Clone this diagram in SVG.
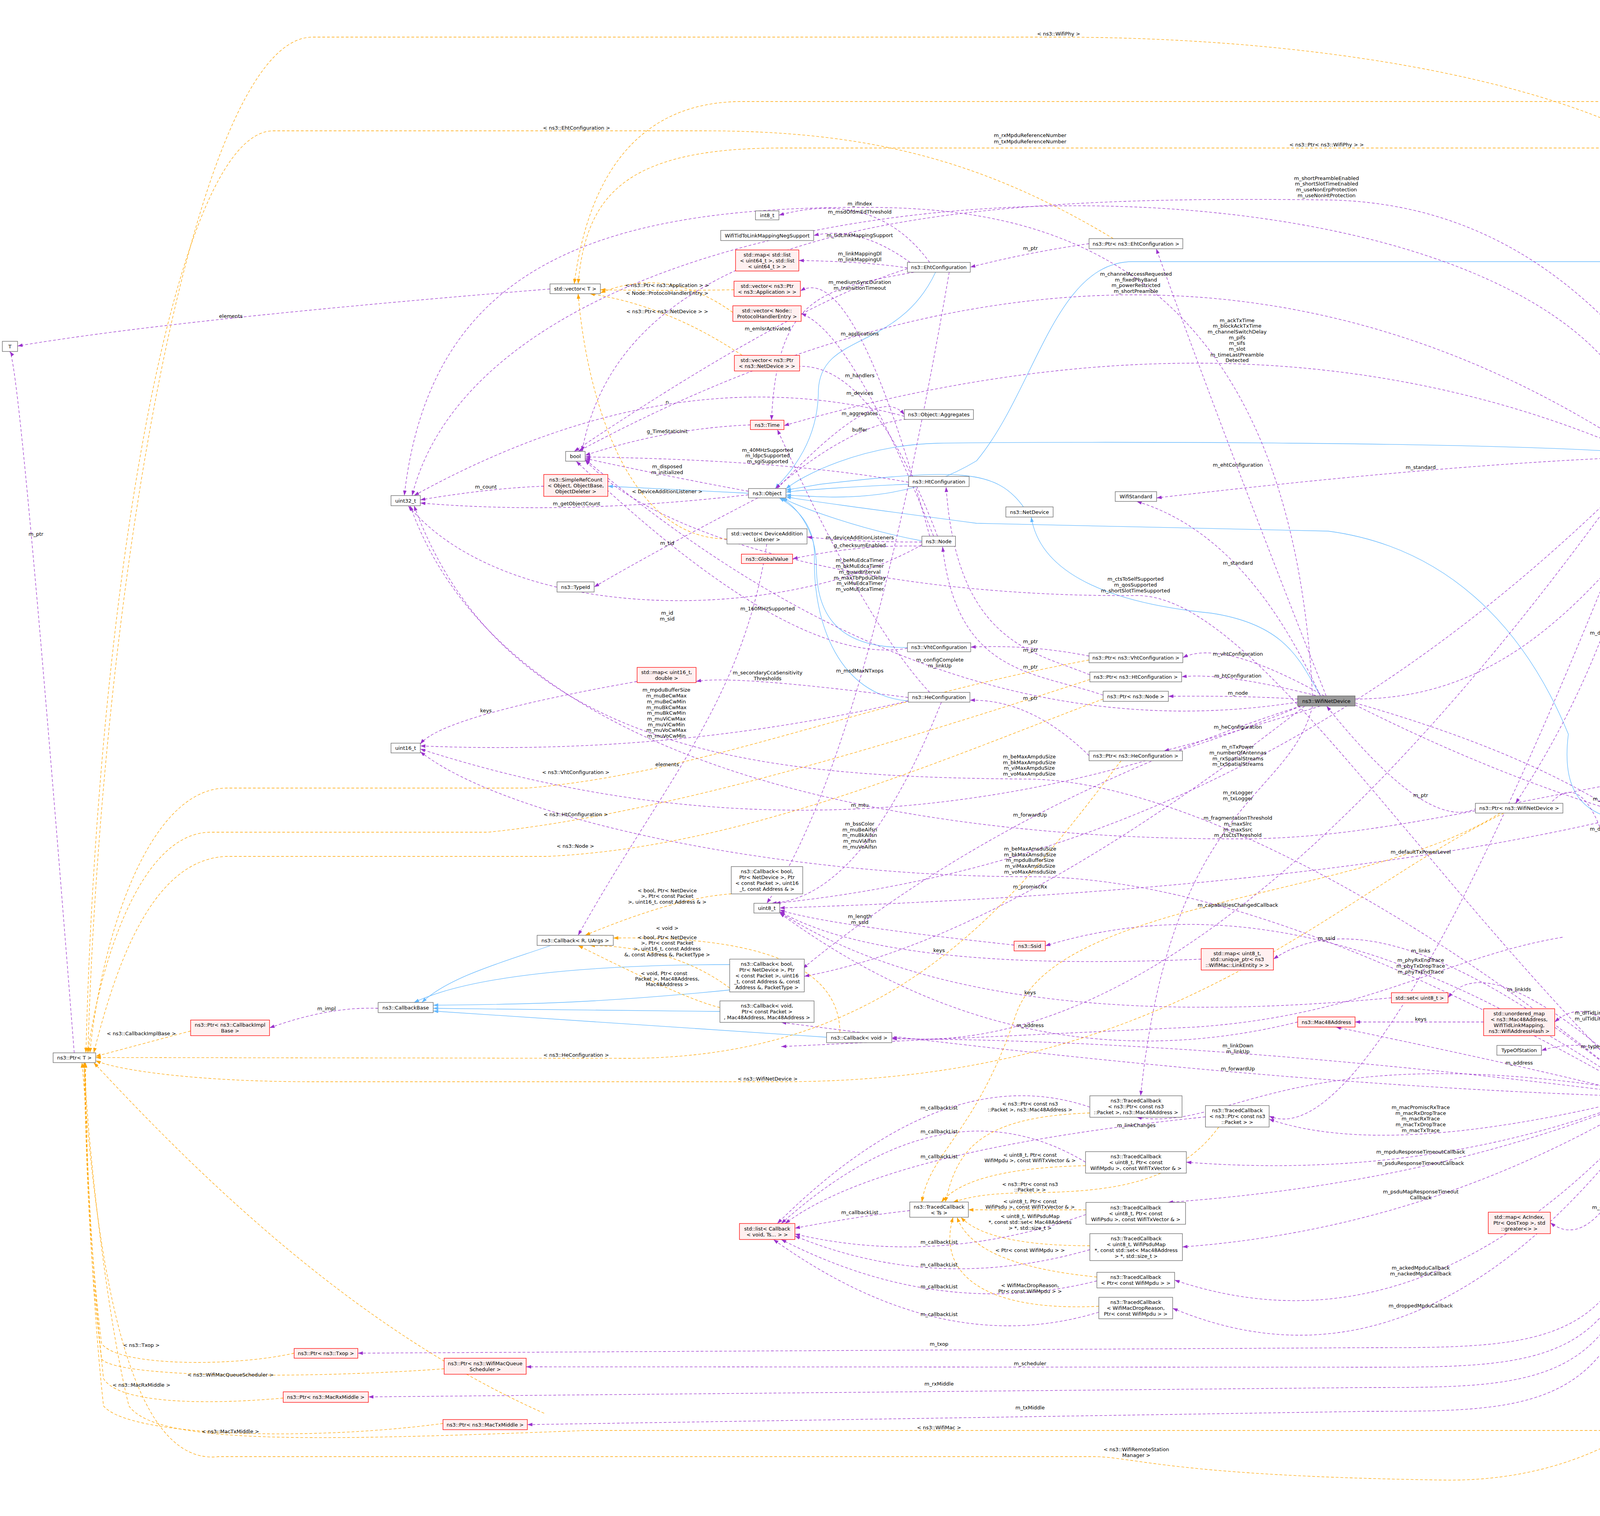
<svg xmlns="http://www.w3.org/2000/svg" width="5608" height="3882" viewBox="0 0 5608 3882">
<style>
text{font-family:"DejaVu Sans","Liberation Sans",sans-serif;font-size:13px;fill:#000;dominant-baseline:central}
.n rect{fill:#fff;stroke:#666;stroke-width:1.3}
.r rect{fill:#fff0f0;stroke:#f00;stroke-width:1.3}
.g rect{fill:#999;stroke:#666;stroke-width:1.3}
.n text,.r text,.g text{text-anchor:middle}
.l{text-anchor:middle}
.p{fill:none;stroke:#9a32cd;stroke-width:1.3;stroke-dasharray:7,5;marker-end:url(#ap)}
.o{fill:none;stroke:#ffa500;stroke-width:1.3;stroke-dasharray:7,5;marker-end:url(#ao)}
.b{fill:none;stroke:#63b8ff;stroke-width:1.3;marker-end:url(#ab)}
</style>
<defs>
<marker id="ap" viewBox="0 0 10 7" refX="10" refY="3.5" markerWidth="13" markerHeight="9" markerUnits="userSpaceOnUse" orient="auto"><path d="M0,0L10,3.5L0,7z" fill="#9a32cd"/></marker>
<marker id="ao" viewBox="0 0 10 7" refX="10" refY="3.5" markerWidth="13" markerHeight="9" markerUnits="userSpaceOnUse" orient="auto"><path d="M0,0L10,3.5L0,7z" fill="#ffa500"/></marker>
<marker id="ab" viewBox="0 0 10 7" refX="10" refY="3.5" markerWidth="13" markerHeight="9" markerUnits="userSpaceOnUse" orient="auto"><path d="M0,0L10,3.5L0,7z" fill="#63b8ff"/></marker>
</defs>
<rect width="5608" height="3882" fill="#fff"/>
<g id="connectors">
<path class="b" d="M1916,1263L1556,1245"/>
<path class="b" d="M2395,697C2300,900 2100,850 2095,1000C2095,1150 2000,1230 1985,1251"/>
<path class="b" d="M2326,1240C2200,1245 2050,1255 2012,1260"/>
<path class="b" d="M2323,1658C2150,1660 2090,1580 2090,1450C2090,1350 2030,1290 2000,1275"/>
<path class="b" d="M2325,1795C2150,1780 2080,1600 2085,1420C2085,1330 2020,1290 1995,1275"/>
<path class="b" d="M2360,1385C2200,1355 2050,1300 2003,1275"/>
<path class="b" d="M2620,1298C2550,1200 2450,1200 2100,1240L2012,1255"/>
<path class="b" d="M4197,1160C3800,1130 2700,1130 2400,1135C2200,1140 2050,1220 2012,1252"/>
<path class="b" d="M4810,1897C4770,1300 4700,670 4500,670L2900,670C2700,670 2650,1000 2500,1180C2300,1300 2100,1270 2012,1268"/>
<path class="b" d="M4240,2790C4230,2300 4220,2100 4150,2100C4030,2080 4000,2000 4015,1880C3900,1600 3700,1400 3400,1360L2500,1340C2200,1300 2050,1280 2012,1272"/>
<path class="b" d="M3381,1782C3330,1700 3300,1600 3100,1570C2800,1540 2660,1450 2640,1324"/>
<path class="b" d="M1872,2470C1500,2470 1200,2500 1060,2567"/>
<path class="b" d="M1410,2421C1300,2460 1150,2500 1080,2567"/>
<path class="b" d="M1868,2535C1500,2572 1300,2572 1109,2574"/>
<path class="b" d="M1843,2590C1500,2585 1300,2583 1109,2582"/>
<path class="b" d="M2116,2656L1109,2589"/>
<path class="p" d="M1408,740Q455,817 45,886"/>
<path class="p" d="M190,2696Q52,936 25,900"/>
<path class="p" d="M1392,1245Q1255,1250 1076,1280"/>
<path class="p" d="M1916,1267Q1456,1320 1076,1288"/>
<path class="p" d="M1916,1258Q1709,1220 1498,1174"/>
<path class="p" d="M1921,1088Q1706,1097 1498,1166"/>
<path class="p" d="M2326,1235Q2018,1178 1498,1170"/>
<path class="p" d="M2323,688Q2033,778 1470,1156"/>
<path class="p" d="M2380,672Q2243,484 1994,551"/>
<path class="p" d="M2330,672Q2199,577 2083,603"/>
<path class="p" d="M2323,686Q2218,670 2045,667"/>
<path class="p" d="M2340,697C2100,740 1990,760 1975,1076"/>
<path class="p" d="M2380,1373Q2187,665 2049,745"/>
<path class="p" d="M2390,1373Q2181,850 2051,803"/>
<path class="p" d="M2400,1373Q2207,866 1990,950"/>
<path class="p" d="M1990,1251Q2249,975 2315,1062"/>
<path class="p" d="M2380,1074Q2219,1053 1985,1251"/>
<path class="p" d="M2360,1388Q2189,1388 2066,1375"/>
<path class="p" d="M2370,1399Q2202,1393 2029,1431"/>
<path class="p" d="M2360,1395C2000,1600 1300,1600 1045,1295"/>
<path class="p" d="M1940,1275Q1685,1407 1521,1503"/>
<path class="p" d="M2315,1066Q1720,905 1060,1269"/>
<path class="p" d="M2323,1660Q2031,1711 1475,1181"/>
<path class="p" d="M2430,697Q2215,1945 1963,2313"/>
<path class="p" d="M2325,1786Q1876,1728 1782,1745"/>
<path class="p" d="M2325,1795Q1711,1937 1076,1910"/>
<path class="p" d="M2410,1798Q2209,2300 1975,2313"/>
<path class="p" d="M2380,1773Q2217,1599 1990,1100"/>
<path class="p" d="M1631,1745Q1134,1833 1076,1905"/>
<path class="p" d="M2788,624Q2638,645 2484,684"/>
<path class="p" d="M2788,1680Q2638,1650 2485,1657"/>
<path class="p" d="M2790,1728C2650,1670 2450,1650 2422,1247"/>
<path class="p" d="M2824,1780C2650,1720 2450,1730 2413,1400"/>
<path class="p" d="M2788,1935Q2640,1790 2483,1793"/>
<path class="p" d="M3390,1782Q3129,1635 3028,1684"/>
<path class="p" d="M3380,1784Q3135,1721 3025,1733"/>
<path class="p" d="M3322,1790Q3181,1781 2991,1783"/>
<path class="p" d="M3380,1808Q3158,1876 2980,1923"/>
<path class="p" d="M3395,1782Q3160,1190 2960,637"/>
<path class="p" d="M3360,1782C3300,600 2600,530 2201,531C1500,531 1100,700 1035,1269"/>
<path class="p" d="M3330,1808Q2199,2279 1076,1918"/>
<path class="p" d="M3322,1798Q2402,1942 1498,1176"/>
<path class="p" d="M3380,1782Q3193,1369 2910,1284"/>
<path class="p" d="M3469,1790C4000,1790 4250,1300 4780,535"/>
<path class="p" d="M3469,1800Q4257,2025 4420,2370"/>
<path class="p" d="M3469,1805Q4531,2339 5400,2172"/>
<path class="p" d="M3330,1808Q2581,2048 2055,2480"/>
<path class="p" d="M3340,1808Q2574,2406 2059,2500"/>
<path class="p" d="M3360,1808C3300,2050 3000,2046 2920,2806"/>
<path class="p" d="M3800,2057Q3676,2159 3396,1808"/>
<path class="p" d="M4220,1178Q4152,1642 3880,2057"/>
<path class="p" d="M4210,2790Q4122,1828 3950,2082"/>
<path class="p" d="M4197,1170Q3695,1189 2961,1275"/>
<path class="p" d="M4696,1905C4400,1000 4000,520 3396,512C2500,500 1600,550 1490,1156"/>
<path class="p" d="M4197,1160Q2977,352 1480,1156"/>
<path class="p" d="M4200,1165Q3230,736 2007,1090"/>
<path class="p" d="M4220,1178Q3235,2186 1985,2313"/>
<path class="p" d="M4700,1923C4000,2000 3600,2150 3169,2148C2400,2150 1300,2000 1050,1295"/>
<path class="p" d="M4696,1915Q3928,2262 1996,2325"/>
<path class="p" d="M4750,1897C4750,900 4650,560 4572,529"/>
<path class="p" d="M4720,1923Q4679,2305 4470,2370"/>
<path class="p" d="M4470,529C4330,600 4260,900 4250,1152"/>
<path class="p" d="M4734,516L4572,516"/>
<path class="p" d="M5090,2132L4830,1923"/>
<path class="p" d="M5321,2152L5207,2152"/>
<path class="p" d="M4220,1152C4100,300 1300,300 1055,1269"/>
<path class="p" d="M4200,1178Q3096,2736 2283,2657"/>
<path class="p" d="M4230,1178Q3534,2978 3249,2858"/>
<path class="p" d="M4197,2800Q3355,2213 2676,2422"/>
<path class="p" d="M2596,2420Q2106,2367 1996,2330"/>
<path class="p" d="M4197,2795Q3545,2262 3260,2456"/>
<path class="p" d="M3075,2456Q2272,2491 1996,2334"/>
<path class="p" d="M4220,2790Q3814,2413 3707,2555"/>
<path class="p" d="M3562,2555Q2495,2656 1996,2336"/>
<path class="p" d="M4197,2805Q3969,2744 3420,2630"/>
<path class="p" d="M3798,2617L3469,2617"/>
<path class="p" d="M4230,2790Q4097,2516 3980,2617"/>
<path class="p" d="M4230,2790Q4114,2638 3946,2690"/>
<path class="p" d="M4197,2802Q3098,2663 2283,2660"/>
<path class="p" d="M4197,2808Q3239,2779 2000,2618"/>
<path class="p" d="M3322,2617Q2615,2792 1996,2338"/>
<path class="p" d="M4197,2810Q3551,2970 3249,2866"/>
<path class="p" d="M4197,2795C3300,2650 3150,2900 2910,2861"/>
<path class="p" d="M4197,2812Q3657,3024 3037,2976"/>
<path class="p" d="M4197,2814Q3680,3029 2990,3079"/>
<path class="p" d="M4210,2816Q3655,3147 3027,3193"/>
<path class="p" d="M4240,2816Q4097,3228 3969,3131"/>
<path class="p" d="M4240,2816Q3650,3495 3007,3278"/>
<path class="p" d="M4240,2816Q3653,3623 3002,3350"/>
<path class="p" d="M4230,2816C4220,3451 4000,3451 3500,3451L916,3465"/>
<path class="p" d="M4232,2816C4222,3501 4000,3501 3500,3501L1347,3500"/>
<path class="p" d="M4234,2816C4224,3553 4000,3553 3500,3553L943,3577"/>
<path class="p" d="M4236,2816C4226,3614 4000,3614 3500,3614L1350,3648"/>
<path class="p" d="M4450,2395L4262,2790"/>
<path class="p" d="M4000,2400C3700,2450 3500,2600 3060,2630L2000,2680"/>
<path class="p" d="M2329,3100Q2201,3114 2035,3145"/>
<path class="p" d="M2790,2835Q2418,2708 1990,3133"/>
<path class="p" d="M2779,2976Q2418,2759 2000,3133"/>
<path class="p" d="M3086,2860Q2260,2945 2010,3133"/>
<path class="p" d="M2780,3110Q2400,3245 2035,3160"/>
<path class="p" d="M2790,3200Q2395,3313 2035,3165"/>
<path class="p" d="M2808,3280Q2404,3381 2000,3174"/>
<path class="p" d="M2813,3360Q2411,3483 1980,3174"/>
<path class="p" d="M968,2582Q843,2577 690,2632"/>
<path class="p" d="M4197,2795C3600,2300 3000,2000 2635,1995C2000,1990 1300,1950 1060,1295"/>
<path class="p" d="M4197,2800C3500,2400 3000,2245 2637,2245C2000,2245 1300,2100 1076,1925"/>
<path class="p" d="M4197,2790C3600,2200 3200,1520 2907,1525C2300,1530 1700,1400 1498,1178"/>
<path class="p" d="M1963,1393C1900,1800 1700,2000 1480,2395"/>
<path class="o" d="M1879,742Q1708,745 1537,742"/>
<path class="o" d="M1876,800Q1709,680 1537,750"/>
<path class="o" d="M1900,910Q1711,783 1510,752"/>
<path class="o" d="M1861,1380C1600,1380 1500,1000 1480,752"/>
<path class="o" d="M2850,611C2500,400 2200,335 1800,335L700,335C450,335 250,1500 220,2696"/>
<path class="o" d="M4420,504C4200,250 3500,95 2700,95L800,95C500,95 260,1500 225,2696"/>
<path class="o" d="M4780,495C4600,379 4400,379 4200,379L2000,379C1600,379 1500,500 1480,727"/>
<path class="o" d="M5460,2132C5350,800 5100,260 4600,260L1900,260C1600,260 1500,500 1470,727"/>
<path class="o" d="M5070,2172C4800,2700 4600,3800 3700,3790C3000,3780 2900,3730 2800,3730L560,3730C300,3760 240,3100 210,2721"/>
<path class="o" d="M2788,1690C2200,1800 1800,1980 1350,2018L580,2018C380,2018 260,2400 230,2696"/>
<path class="o" d="M2790,1740C2300,1900 1700,2085 1250,2131L540,2131C350,2131 250,2500 225,2696"/>
<path class="o" d="M2824,1790C2400,1950 1900,2170 1400,2193L580,2193C380,2200 290,2500 240,2696"/>
<path class="o" d="M2870,1948C2600,2300 2300,2712 1600,2710L245,2708"/>
<path class="o" d="M3850,2082C3400,2300 3000,2770 2000,2770L800,2770C500,2770 300,2740 245,2716"/>
<path class="o" d="M4470,2395C4420,2800 4330,3300 4253,3663L1500,3663C800,3690 400,3700 330,3600C280,3400 230,3000 215,2721"/>
<path class="o" d="M1393,3619C900,3400 500,3000 240,2721"/>
<path class="o" d="M488,2640L245,2705"/>
<path class="o" d="M753,3465C600,3500 300,3500 260,3440C230,3200 218,2900 215,2721"/>
<path class="o" d="M1137,3505C800,3530 300,3530 260,3480C225,3200 218,2900 217,2721"/>
<path class="o" d="M725,3580C500,3600 300,3590 265,3530C230,3200 219,2900 218,2721"/>
<path class="o" d="M1134,3645C800,3690 330,3680 265,3600C232,3300 220,2900 219,2721"/>
<path class="o" d="M1872,2289Q1731,2298 1498,2395"/>
<path class="o" d="M2150,2644C2150,2500 2000,2395 1570,2402"/>
<path class="o" d="M1868,2530Q1727,2424 1510,2421"/>
<path class="o" d="M1843,2580Q1754,2559 1480,2421"/>
<path class="o" d="M3840,2082C3500,2300 2700,2300 2600,2600C2500,2900 2380,2950 2360,3078"/>
<path class="o" d="M2790,2850C2500,2860 2450,2950 2420,3078"/>
<path class="o" d="M2779,2985C2550,2990 2450,3030 2410,3078"/>
<path class="o" d="M3120,2886C3000,3050 2800,3052 2600,3055C2500,3058 2470,3070 2440,3078"/>
<path class="o" d="M2780,3098L2479,3098"/>
<path class="o" d="M2790,3190C2600,3190 2500,3160 2460,3117"/>
<path class="o" d="M2808,3270C2600,3250 2480,3200 2450,3117"/>
<path class="o" d="M2813,3345C2500,3360 2400,3250 2440,3117"/>
</g>
<g id="labels">
<text class="l" x="591" y="809">elements</text>
<text class="l" x="92" y="1367">m_ptr</text>
<text class="l" x="1244" y="1246">m_count</text>
<text class="l" x="1476" y="327">&lt; ns3::EhtConfiguration &gt;</text>
<text class="l" x="2637" y="346">m_rxMpduReferenceNumber</text>
<text class="l" x="2637" y="362">m_txMpduReferenceNumber</text>
<text class="l" x="2201" y="521">m_ifIndex</text>
<text class="l" x="2201" y="542">m_msdOfdmEdThreshold</text>
<text class="l" x="2201" y="602">m_tidLinkMappingSupport</text>
<text class="l" x="2201" y="649">m_linkMappingDl</text>
<text class="l" x="2201" y="664">m_linkMappingUl</text>
<text class="l" x="2638" y="635">m_ptr</text>
<text class="l" x="1708" y="730">&lt; ns3::Ptr&lt; ns3::Application &gt; &gt;</text>
<text class="l" x="1708" y="750">&lt; Node::ProtocolHandlerEntry &gt;</text>
<text class="l" x="1708" y="797">&lt; ns3::Ptr&lt; ns3::NetDevice &gt; &gt;</text>
<text class="l" x="2201" y="722">m_mediumSyncDuration</text>
<text class="l" x="2201" y="737">m_transitionTimeout</text>
<text class="l" x="1965" y="841">m_emlsrActivated</text>
<text class="l" x="2201" y="854">m_applications</text>
<text class="l" x="2201" y="961">m_handlers</text>
<text class="l" x="2201" y="1006">m_devices</text>
<text class="l" x="1708" y="1029">n</text>
<text class="l" x="2201" y="1058">m_aggregates</text>
<text class="l" x="1708" y="1104">g_TimeStaticInit</text>
<text class="l" x="2201" y="1100">buffer</text>
<text class="l" x="1965" y="1152">m_40MHzSupported</text>
<text class="l" x="1965" y="1166">m_ldpcSupported</text>
<text class="l" x="1965" y="1181">m_sgiSupported</text>
<text class="l" x="1708" y="1194">m_disposed</text>
<text class="l" x="1708" y="1209">m_initialized</text>
<text class="l" x="1708" y="1258">&lt; DeviceAdditionListener &gt;</text>
<text class="l" x="1476" y="1289">m_getObjectCount</text>
<text class="l" x="2201" y="1376">m_deviceAdditionListeners</text>
<text class="l" x="2201" y="1396">g_checksumEnabled</text>
<text class="l" x="1708" y="1390">m_tid</text>
<text class="l" x="2710" y="86">&lt; ns3::WifiPhy &gt;</text>
<text class="l" x="4654" y="236">&lt; ns3::Ptr&lt; ns3::WifiRemote</text>
<text class="l" x="4654" y="251">StationManager &gt; &gt;</text>
<text class="l" x="3396" y="370">&lt; ns3::Ptr&lt; ns3::WifiPhy &gt; &gt;</text>
<text class="l" x="3396" y="456">m_shortPreambleEnabled</text>
<text class="l" x="3396" y="470">m_shortSlotTimeEnabled</text>
<text class="l" x="3396" y="485">m_useNonErpProtection</text>
<text class="l" x="3396" y="500">m_useNonHtProtection</text>
<text class="l" x="2908" y="701">m_channelAccessRequested</text>
<text class="l" x="2908" y="716">m_fixedPhyBand</text>
<text class="l" x="2908" y="730">m_powerRestricted</text>
<text class="l" x="2908" y="745">m_shortPreamble</text>
<text class="l" x="3167" y="820">m_ackTxTime</text>
<text class="l" x="3167" y="834">m_blockAckTxTime</text>
<text class="l" x="3167" y="849">m_channelSwitchDelay</text>
<text class="l" x="3167" y="864">m_pifs</text>
<text class="l" x="3167" y="878">m_sifs</text>
<text class="l" x="3167" y="893">m_slot</text>
<text class="l" x="3167" y="908">m_timeLastPreamble</text>
<text class="l" x="3167" y="922">Detected</text>
<text class="l" x="3169" y="1190">m_ehtConfiguration</text>
<text class="l" x="3637" y="1196">m_standard</text>
<text class="l" x="4637" y="506">elements</text>
<text class="l" x="4347" y="565">m_ptr</text>
<text class="l" x="4636" y="548">m_wifiPhy</text>
<text class="l" x="2201" y="1434">m_beMuEdcaTimer</text>
<text class="l" x="2201" y="1449">m_bkMuEdcaTimer</text>
<text class="l" x="2201" y="1464">m_guardInterval</text>
<text class="l" x="2201" y="1479">m_maxTbPpduDelay</text>
<text class="l" x="2201" y="1493">m_viMuEdcaTimer</text>
<text class="l" x="2201" y="1508">m_voMuEdcaTimer</text>
<text class="l" x="1965" y="1558">m_160MHzSupported</text>
<text class="l" x="1708" y="1569">m_id</text>
<text class="l" x="1708" y="1584">m_sid</text>
<text class="l" x="2638" y="1642">m_ptr</text>
<text class="l" x="2638" y="1664">m_ptr</text>
<text class="l" x="2638" y="1707">m_ptr</text>
<text class="l" x="2638" y="1787">m_ptr</text>
<text class="l" x="2406" y="1689">m_configComplete</text>
<text class="l" x="2406" y="1704">m_linkUp</text>
<text class="l" x="1965" y="1722">m_secondaryCcaSensitivity</text>
<text class="l" x="1965" y="1737">Thresholds</text>
<text class="l" x="2201" y="1717">m_msdMaxNTxops</text>
<text class="l" x="1706" y="1766">m_mpduBufferSize</text>
<text class="l" x="1706" y="1781">m_muBeCwMax</text>
<text class="l" x="1706" y="1796">m_muBeCwMin</text>
<text class="l" x="1706" y="1811">m_muBkCwMax</text>
<text class="l" x="1706" y="1825">m_muBkCwMin</text>
<text class="l" x="1706" y="1840">m_muViCwMax</text>
<text class="l" x="1706" y="1855">m_muViCwMin</text>
<text class="l" x="1706" y="1869">m_muVoCwMax</text>
<text class="l" x="1706" y="1884">m_muVoCwMin</text>
<text class="l" x="1244" y="1819">keys</text>
<text class="l" x="1708" y="1957">elements</text>
<text class="l" x="1474" y="1977">&lt; ns3::VhtConfiguration &gt;</text>
<text class="l" x="2635" y="1937">m_beMaxAmpduSize</text>
<text class="l" x="2635" y="1952">m_bkMaxAmpduSize</text>
<text class="l" x="2635" y="1966">m_viMaxAmpduSize</text>
<text class="l" x="2635" y="1981">m_voMaxAmpduSize</text>
<text class="l" x="2201" y="2061">m_mtu</text>
<text class="l" x="1474" y="2085">&lt; ns3::HtConfiguration &gt;</text>
<text class="l" x="2637" y="2086">m_forwardUp</text>
<text class="l" x="2201" y="2109">m_bssColor</text>
<text class="l" x="2201" y="2124">m_muBeAifsn</text>
<text class="l" x="2201" y="2138">m_muBkAifsn</text>
<text class="l" x="2201" y="2153">m_muViAifsn</text>
<text class="l" x="2201" y="2168">m_muVoAifsn</text>
<text class="l" x="1473" y="2166">&lt; ns3::Node &gt;</text>
<text class="l" x="2637" y="2173">m_beMaxAmsduSize</text>
<text class="l" x="2637" y="2188">m_bkMaxAmsduSize</text>
<text class="l" x="2637" y="2202">m_mpduBufferSize</text>
<text class="l" x="2637" y="2217">m_viMaxAmsduSize</text>
<text class="l" x="2637" y="2232">m_voMaxAmsduSize</text>
<text class="l" x="2637" y="2270">m_promiscRx</text>
<text class="l" x="1708" y="2280">&lt; bool, Ptr&lt; NetDevice</text>
<text class="l" x="1708" y="2294">&gt;, Ptr&lt; const Packet</text>
<text class="l" x="1708" y="2309">&gt;, uint16_t, const Address &amp; &gt;</text>
<text class="l" x="2201" y="2346">m_length</text>
<text class="l" x="2201" y="2361">m_ssid</text>
<text class="l" x="1708" y="2376">&lt; void &gt;</text>
<text class="l" x="1708" y="2400">&lt; bool, Ptr&lt; NetDevice</text>
<text class="l" x="1708" y="2414">&gt;, Ptr&lt; const Packet</text>
<text class="l" x="1708" y="2429">&gt;, uint16_t, const Address</text>
<text class="l" x="1708" y="2444">&amp;, const Address &amp;, PacketType &gt;</text>
<text class="l" x="2404" y="2433">keys</text>
<text class="l" x="1700" y="2492">&lt; void, Ptr&lt; const</text>
<text class="l" x="1708" y="2506">Packet &gt;, Mac48Address,</text>
<text class="l" x="1708" y="2520">Mac48Address &gt;</text>
<text class="l" x="3169" y="1441">m_standard</text>
<text class="l" x="2907" y="1482">m_ctsToSelfSupported</text>
<text class="l" x="2907" y="1497">m_qosSupported</text>
<text class="l" x="2907" y="1512">m_shortSlotTimeSupported</text>
<text class="l" x="3169" y="1674">m_vhtConfiguration</text>
<text class="l" x="3169" y="1730">m_htConfiguration</text>
<text class="l" x="3169" y="1774">m_node</text>
<text class="l" x="3169" y="1861">m_heConfiguration</text>
<text class="l" x="3169" y="1912">m_nTxPower</text>
<text class="l" x="3169" y="1927">m_numberOfAntennas</text>
<text class="l" x="3169" y="1942">m_rxSpatialStreams</text>
<text class="l" x="3169" y="1956">m_txSpatialStreams</text>
<text class="l" x="3169" y="2029">m_rxLogger</text>
<text class="l" x="3169" y="2044">m_txLogger</text>
<text class="l" x="3637" y="2036">m_ptr</text>
<text class="l" x="3169" y="2094">m_fragmentationThreshold</text>
<text class="l" x="3169" y="2109">m_maxSlrc</text>
<text class="l" x="3169" y="2124">m_maxSsrc</text>
<text class="l" x="3169" y="2138">m_rtsCtsThreshold</text>
<text class="l" x="3637" y="2181">m_defaultTxPowerLevel</text>
<text class="l" x="3169" y="2317">m_capabilitiesChangedCallback</text>
<text class="l" x="3396" y="2402">m_ssid</text>
<text class="l" x="3637" y="2434">m_links</text>
<text class="l" x="3637" y="2458">m_phyRxEndTrace</text>
<text class="l" x="3637" y="2473">m_phyTxDropTrace</text>
<text class="l" x="3637" y="2488">m_phyTxEndTrace</text>
<text class="l" x="4101" y="1620">m_device</text>
<text class="l" x="4101" y="2045">m_mac</text>
<text class="l" x="4101" y="2122">m_device</text>
<text class="l" x="4250" y="1518">m_phys</text>
<text class="l" x="4973" y="2015">m_ptr</text>
<text class="l" x="5266" y="2144">elements</text>
<text class="l" x="4483" y="2154">m_stationManagers</text>
<text class="l" x="4637" y="2216">m_wifiMac</text>
<text class="l" x="836" y="2582">m_impl</text>
<text class="l" x="362" y="2646">&lt; ns3::CallbackImplBase &gt;</text>
<text class="l" x="362" y="3444">&lt; ns3::Txop &gt;</text>
<text class="l" x="590" y="3520">&lt; ns3::WifiMacQueueScheduler &gt;</text>
<text class="l" x="362" y="3546">&lt; ns3::MacRxMiddle &gt;</text>
<text class="l" x="590" y="3665">&lt; ns3::MacTxMiddle &gt;</text>
<text class="l" x="1475" y="2701">&lt; ns3::HeConfiguration &gt;</text>
<text class="l" x="2637" y="2541">keys</text>
<text class="l" x="2637" y="2625">m_address</text>
<text class="l" x="1965" y="2762">&lt; ns3::WifiNetDevice &gt;</text>
<text class="l" x="2404" y="2836">m_callbackList</text>
<text class="l" x="2404" y="2897">m_callbackList</text>
<text class="l" x="2404" y="2961">m_callbackList</text>
<text class="l" x="2201" y="3104">m_callbackList</text>
<text class="l" x="2404" y="3180">m_callbackList</text>
<text class="l" x="2404" y="3238">m_callbackList</text>
<text class="l" x="2404" y="3294">m_callbackList</text>
<text class="l" x="2404" y="3365">m_callbackList</text>
<text class="l" x="2637" y="2826">&lt; ns3::Ptr&lt; const ns3</text>
<text class="l" x="2637" y="2841">::Packet &gt;, ns3::Mac48Address &gt;</text>
<text class="l" x="2637" y="2957">&lt; uint8_t, Ptr&lt; const</text>
<text class="l" x="2637" y="2971">WifiMpdu &gt;, const WifiTxVector &amp; &gt;</text>
<text class="l" x="2637" y="3032">&lt; ns3::Ptr&lt; const ns3</text>
<text class="l" x="2637" y="3046">::Packet &gt; &gt;</text>
<text class="l" x="2637" y="3076">&lt; uint8_t, Ptr&lt; const</text>
<text class="l" x="2637" y="3090">WifiPsdu &gt;, const WifiTxVector &amp; &gt;</text>
<text class="l" x="2637" y="3114">&lt; uint8_t, WifiPsduMap</text>
<text class="l" x="2637" y="3129">*, const std::set&lt; Mac48Address</text>
<text class="l" x="2637" y="3144">&gt; *, std::size_t &gt;</text>
<text class="l" x="2637" y="3201">&lt; Ptr&lt; const WifiMpdu &gt; &gt;</text>
<text class="l" x="2637" y="3291">&lt; WifiMacDropReason,</text>
<text class="l" x="2637" y="3306">Ptr&lt; const WifiMpdu &gt; &gt;</text>
<text class="l" x="2404" y="3441">m_txop</text>
<text class="l" x="2637" y="3491">m_scheduler</text>
<text class="l" x="2404" y="3543">m_rxMiddle</text>
<text class="l" x="2637" y="3604">m_txMiddle</text>
<text class="l" x="2404" y="3655">&lt; ns3::WifiMac &gt;</text>
<text class="l" x="3889" y="2533">m_linkIds</text>
<text class="l" x="4101" y="2593">m_dlTidLinkMappings</text>
<text class="l" x="4101" y="2608">m_ulTidLinkMappings</text>
<text class="l" x="3637" y="2609">keys</text>
<text class="l" x="4101" y="2679">m_typeOfStation</text>
<text class="l" x="3169" y="2677">m_linkDown</text>
<text class="l" x="3169" y="2692">m_linkUp</text>
<text class="l" x="3889" y="2721">m_address</text>
<text class="l" x="3169" y="2736">m_forwardUp</text>
<text class="l" x="2909" y="2881">m_linkChanges</text>
<text class="l" x="3637" y="2835">m_macPromiscRxTrace</text>
<text class="l" x="3637" y="2850">m_macRxDropTrace</text>
<text class="l" x="3637" y="2864">m_macRxTrace</text>
<text class="l" x="3637" y="2879">m_macTxDropTrace</text>
<text class="l" x="3637" y="2894">m_macTxTrace</text>
<text class="l" x="3637" y="2949">m_mpduResponseTimeoutCallback</text>
<text class="l" x="3637" y="2978">m_psduResponseTimeoutCallback</text>
<text class="l" x="3637" y="3051">m_psduMapResponseTimeout</text>
<text class="l" x="3637" y="3066">Callback</text>
<text class="l" x="4101" y="3091">m_edca</text>
<text class="l" x="3637" y="3246">m_ackedMpduCallback</text>
<text class="l" x="3637" y="3261">m_nackedMpduCallback</text>
<text class="l" x="3637" y="3343">m_droppedMpduCallback</text>
<text class="l" x="2909" y="3711">&lt; ns3::WifiRemoteStation</text>
<text class="l" x="2909" y="3726">Manager &gt;</text>
<text class="l" x="4347" y="2585">m_ptr</text>
</g>
<g id="T" class="n"><rect x="6" y="874" width="39" height="26"/><text x="25.5" y="887">T</text></g>
<g id="uint32" class="n"><rect x="1001" y="1269" width="75" height="26"/><text x="1038.5" y="1282">uint32_t</text></g>
<g id="int8" class="n"><rect x="1934" y="540" width="60" height="23"/><text x="1964" y="551.5">int8_t</text></g>
<g id="tidneg" class="n"><rect x="1845" y="590" width="238" height="26"/><text x="1964" y="603">WifiTidToLinkMappingNegSupport</text></g>
<g id="maplist" class="r"><rect x="1883" y="640" width="162" height="54"/><text x="1964" y="652">std::map&lt; std::list</text><text x="1964" y="667">&lt; uint64_t &gt;, std::list</text><text x="1964" y="682">&lt; uint64_t &gt; &gt;</text></g>
<g id="eht" class="n"><rect x="2323" y="672" width="161" height="25"/><text x="2403.5" y="684.5">ns3::EhtConfiguration</text></g>
<g id="vecT" class="n"><rect x="1408" y="727" width="129" height="25"/><text x="1472.5" y="739.5">std::vector&lt; T &gt;</text></g>
<g id="vecApp" class="r"><rect x="1879" y="720" width="170" height="39"/><text x="1964" y="732">std::vector&lt; ns3::Ptr</text><text x="1964" y="747">&lt; ns3::Application &gt; &gt;</text></g>
<g id="vecPH" class="r"><rect x="1876" y="783" width="175" height="40"/><text x="1963.5" y="795.5">std::vector&lt; Node::</text><text x="1963.5" y="810.5">ProtocolHandlerEntry &gt;</text></g>
<g id="vecND" class="r"><rect x="1880" y="910" width="167" height="40"/><text x="1963.5" y="922.5">std::vector&lt; ns3::Ptr</text><text x="1963.5" y="937.5">&lt; ns3::NetDevice &gt; &gt;</text></g>
<g id="time" class="r"><rect x="1921" y="1076" width="86" height="24"/><text x="1964" y="1088">ns3::Time</text></g>
<g id="aggr" class="n"><rect x="2315" y="1049" width="177" height="25"/><text x="2403.5" y="1061.5">ns3::Object::Aggregates</text></g>
<g id="bool" class="n"><rect x="1448" y="1156" width="50" height="25"/><text x="1473" y="1168.5">bool</text></g>
<g id="src" class="r"><rect x="1392" y="1215" width="164" height="56"/><text x="1474" y="1228">ns3::SimpleRefCount</text><text x="1474" y="1243">&lt; Object, ObjectBase,</text><text x="1474" y="1258">ObjectDeleter &gt;</text></g>
<g id="object" class="n"><rect x="1916" y="1251" width="96" height="24"/><text x="1964" y="1263">ns3::Object</text></g>
<g id="ht" class="n"><rect x="2326" y="1220" width="155" height="26"/><text x="2403.5" y="1233">ns3::HtConfiguration</text></g>
<g id="netdevice" class="n"><rect x="2575" y="1298" width="121" height="26"/><text x="2635.5" y="1311">ns3::NetDevice</text></g>
<g id="vecDAL" class="n"><rect x="1861" y="1354" width="205" height="39"/><text x="1963.5" y="1366">std::vector&lt; DeviceAddition</text><text x="1963.5" y="1381">Listener &gt;</text></g>
<g id="node" class="n"><rect x="2360" y="1373" width="86" height="26"/><text x="2403" y="1386">ns3::Node</text></g>
<g id="ptrEht" class="n"><rect x="2788" y="611" width="240" height="26"/><text x="2908" y="624">ns3::Ptr&lt; ns3::EhtConfiguration &gt;</text></g>
<g id="wifistandard" class="n"><rect x="2855" y="1259" width="106" height="25"/><text x="2908" y="1271.5">WifiStandard</text></g>
<g id="wifiphy" class="r"><rect x="4197" y="1152" width="104" height="26"/><text x="4249" y="1165">ns3::WifiPhy</text></g>
<g id="ptrWifiPhy" class="n"><rect x="4392" y="504" width="180" height="25"/><text x="4482" y="516.5">ns3::Ptr&lt; ns3::WifiPhy &gt;</text></g>
<g id="vecPtrWifiPhy" class="n"><rect x="4734" y="495" width="154" height="40"/><text x="4811" y="507.5">std::vector&lt; ns3::Ptr</text><text x="4811" y="522.5">&lt; ns3::WifiPhy &gt; &gt;</text></g>
<g id="globalvalue" class="r"><rect x="1898" y="1419" width="131" height="24"/><text x="1963.5" y="1431">ns3::GlobalValue</text></g>
<g id="typeid" class="n"><rect x="1426" y="1490" width="95" height="26"/><text x="1473.5" y="1503">ns3::TypeId</text></g>
<g id="vht" class="n"><rect x="2323" y="1646" width="162" height="23"/><text x="2404" y="1657.5">ns3::VhtConfiguration</text></g>
<g id="mapU16" class="r"><rect x="1631" y="1709" width="151" height="39"/><text x="1706.5" y="1721">std::map&lt; uint16_t,</text><text x="1706.5" y="1736">double &gt;</text></g>
<g id="he" class="n"><rect x="2325" y="1773" width="158" height="25"/><text x="2404" y="1785.5">ns3::HeConfiguration</text></g>
<g id="cbBoolAddr" class="n"><rect x="1872" y="2219" width="183" height="70"/><text x="1963.5" y="2231.5">ns3::Callback&lt; bool,</text><text x="1963.5" y="2246.5">Ptr&lt; NetDevice &gt;, Ptr</text><text x="1963.5" y="2261.5">&lt; const Packet &gt;, uint16</text><text x="1963.5" y="2276.5">_t, const Address &amp; &gt;</text></g>
<g id="uint8" class="n"><rect x="1930" y="2313" width="66" height="25"/><text x="1963" y="2325.5">uint8_t</text></g>
<g id="cbR" class="n"><rect x="1375" y="2395" width="195" height="26"/><text x="1472.5" y="2408">ns3::Callback&lt; R, UArgs &gt;</text></g>
<g id="ssid" class="r"><rect x="2596" y="2410" width="80" height="25"/><text x="2636" y="2422.5">ns3::Ssid</text></g>
<g id="cbPT" class="n"><rect x="1868" y="2456" width="191" height="84"/><text x="1963.5" y="2468">ns3::Callback&lt; bool,</text><text x="1963.5" y="2483">Ptr&lt; NetDevice &gt;, Ptr</text><text x="1963.5" y="2498">&lt; const Packet &gt;, uint16</text><text x="1963.5" y="2513">_t, const Address &amp;, const</text><text x="1963.5" y="2528">Address &amp;, PacketType &gt;</text></g>
<g id="uint16" class="n"><rect x="1001" y="1903" width="75" height="25"/><text x="1038.5" y="1915.5">uint16_t</text></g>
<g id="ptrVht" class="n"><rect x="2788" y="1672" width="240" height="25"/><text x="2908" y="1684.5">ns3::Ptr&lt; ns3::VhtConfiguration &gt;</text></g>
<g id="ptrHt" class="n"><rect x="2790" y="1721" width="235" height="25"/><text x="2907.5" y="1733.5">ns3::Ptr&lt; ns3::HtConfiguration &gt;</text></g>
<g id="ptrNode" class="n"><rect x="2824" y="1770" width="167" height="26"/><text x="2907.5" y="1783">ns3::Ptr&lt; ns3::Node &gt;</text></g>
<g id="wifinetdevice" class="g"><rect x="3322" y="1782" width="147" height="26"/><text x="3395.5" y="1795">ns3::WifiNetDevice</text></g>
<g id="ptrHe" class="n"><rect x="2788" y="1923" width="239" height="25"/><text x="2907.5" y="1935.5">ns3::Ptr&lt; ns3::HeConfiguration &gt;</text></g>
<g id="ptrWND" class="n"><rect x="3777" y="2057" width="224" height="25"/><text x="3889" y="2069.5">ns3::Ptr&lt; ns3::WifiNetDevice &gt;</text></g>
<g id="mapLink" class="r"><rect x="3075" y="2429" width="185" height="55"/><text x="3167.5" y="2441.5">std::map&lt; uint8_t,</text><text x="3167.5" y="2456.5">std::unique_ptr&lt; ns3</text><text x="3167.5" y="2471.5">::WifiMac::LinkEntity &gt; &gt;</text></g>
<g id="wrsm" class="r"><rect x="4696" y="1897" width="230" height="26"/><text x="4811" y="1910">ns3::WifiRemoteStationManager</text></g>
<g id="ptrWRSM" class="n"><rect x="5016" y="2132" width="191" height="40"/><text x="5111.5" y="2144.5">ns3::Ptr&lt; ns3::WifiRemote</text><text x="5111.5" y="2159.5">StationManager &gt;</text></g>
<g id="vecPtrWRSM" class="n"><rect x="5321" y="2132" width="273" height="40"/><text x="5457.5" y="2144.5">std::vector&lt; ns3::Ptr</text><text x="5457.5" y="2159.5">&lt; ns3::WifiRemoteStationManager &gt; &gt;</text></g>
<g id="ptrWifiMac" class="n"><rect x="4392" y="2370" width="180" height="25"/><text x="4482" y="2382.5">ns3::Ptr&lt; ns3::WifiMac &gt;</text></g>
<g id="callbackbase" class="n"><rect x="968" y="2567" width="141" height="26"/><text x="1038.5" y="2580">ns3::CallbackBase</text></g>
<g id="ptrCIB" class="r"><rect x="488" y="2612" width="202" height="40"/><text x="589" y="2624.5">ns3::Ptr&lt; ns3::CallbackImpl</text><text x="589" y="2639.5">Base &gt;</text></g>
<g id="ptrT" class="n"><rect x="136" y="2696" width="109" height="25"/><text x="190.5" y="2708.5">ns3::Ptr&lt; T &gt;</text></g>
<g id="ptrTxop" class="r"><rect x="753" y="3453" width="163" height="25"/><text x="834.5" y="3465.5">ns3::Ptr&lt; ns3::Txop &gt;</text></g>
<g id="ptrSched" class="r"><rect x="1137" y="3478" width="210" height="41"/><text x="1242" y="3491">ns3::Ptr&lt; ns3::WifiMacQueue</text><text x="1242" y="3506">Scheduler &gt;</text></g>
<g id="ptrRx" class="r"><rect x="725" y="3564" width="218" height="27"/><text x="834" y="3577.5">ns3::Ptr&lt; ns3::MacRxMiddle &gt;</text></g>
<g id="ptrTx" class="r"><rect x="1134" y="3635" width="216" height="26"/><text x="1242" y="3648">ns3::Ptr&lt; ns3::MacTxMiddle &gt;</text></g>
<g id="cbVoidMac" class="n"><rect x="1843" y="2563" width="241" height="55"/><text x="1963.5" y="2575.5">ns3::Callback&lt; void,</text><text x="1963.5" y="2590.5">Ptr&lt; const Packet &gt;</text><text x="1963.5" y="2605.5">, Mac48Address, Mac48Address &gt;</text></g>
<g id="cbVoid" class="n"><rect x="2116" y="2644" width="167" height="26"/><text x="2199.5" y="2657">ns3::Callback&lt; void &gt;</text></g>
<g id="list" class="r"><rect x="1893" y="3133" width="142" height="41"/><text x="1964" y="3146">std::list&lt; Callback</text><text x="1964" y="3161">&lt; void, Ts... &gt; &gt;</text></g>
<g id="tcTs" class="n"><rect x="2329" y="3078" width="150" height="39"/><text x="2404" y="3090">ns3::TracedCallback</text><text x="2404" y="3105">&lt; Ts &gt;</text></g>
<g id="setU8" class="r"><rect x="3562" y="2542" width="145" height="26"/><text x="3634.5" y="2555">std::set&lt; uint8_t &gt;</text></g>
<g id="mac48" class="r"><rect x="3322" y="2604" width="147" height="26"/><text x="3395.5" y="2617">ns3::Mac48Address</text></g>
<g id="umap" class="r"><rect x="3798" y="2583" width="182" height="69"/><text x="3889" y="2595">std::unordered_map</text><text x="3889" y="2610">&lt; ns3::Mac48Address,</text><text x="3889" y="2625">WifiTidLinkMapping,</text><text x="3889" y="2640">ns3::WifiAddressHash &gt;</text></g>
<g id="typeofstation" class="n"><rect x="3832" y="2677" width="114" height="25"/><text x="3889" y="2689.5">TypeOfStation</text></g>
<g id="tcPM" class="n"><rect x="2790" y="2806" width="236" height="55"/><text x="2908" y="2818.5">ns3::TracedCallback</text><text x="2908" y="2833.5">&lt; ns3::Ptr&lt; const ns3</text><text x="2908" y="2848.5">::Packet &gt;, ns3::Mac48Address &gt;</text></g>
<g id="tcP" class="n"><rect x="3086" y="2831" width="163" height="55"/><text x="3167.5" y="2843.5">ns3::TracedCallback</text><text x="3167.5" y="2858.5">&lt; ns3::Ptr&lt; const ns3</text><text x="3167.5" y="2873.5">::Packet &gt; &gt;</text></g>
<g id="tcMpdu" class="n"><rect x="2779" y="2949" width="258" height="55"/><text x="2908" y="2961.5">ns3::TracedCallback</text><text x="2908" y="2976.5">&lt; uint8_t, Ptr&lt; const</text><text x="2908" y="2991.5">WifiMpdu &gt;, const WifiTxVector &amp; &gt;</text></g>
<g id="tcPsdu" class="n"><rect x="2780" y="3079" width="255" height="56"/><text x="2907.5" y="3092">ns3::TracedCallback</text><text x="2907.5" y="3107">&lt; uint8_t, Ptr&lt; const</text><text x="2907.5" y="3122">WifiPsdu &gt;, const WifiTxVector &amp; &gt;</text></g>
<g id="tcMap" class="n"><rect x="2790" y="3159" width="237" height="69"/><text x="2908.5" y="3171">ns3::TracedCallback</text><text x="2908.5" y="3186">&lt; uint8_t, WifiPsduMap</text><text x="2908.5" y="3201">*, const std::set&lt; Mac48Address</text><text x="2908.5" y="3216">&gt; *, std::size_t &gt;</text></g>
<g id="tcWM" class="n"><rect x="2808" y="3258" width="199" height="40"/><text x="2907.5" y="3270.5">ns3::TracedCallback</text><text x="2907.5" y="3285.5">&lt; Ptr&lt; const WifiMpdu &gt; &gt;</text></g>
<g id="tcDrop" class="n"><rect x="2813" y="3322" width="189" height="55"/><text x="2907.5" y="3334.5">ns3::TracedCallback</text><text x="2907.5" y="3349.5">&lt; WifiMacDropReason,</text><text x="2907.5" y="3364.5">Ptr&lt; const WifiMpdu &gt; &gt;</text></g>
<g id="mapAc" class="r"><rect x="3810" y="3104" width="159" height="55"/><text x="3889.5" y="3116.5">std::map&lt; AcIndex,</text><text x="3889.5" y="3131.5">Ptr&lt; QosTxop &gt;, std</text><text x="3889.5" y="3146.5">::greater&lt;&gt; &gt;</text></g>
<g id="wifimac" class="n"><rect x="4197" y="2790" width="104" height="26"/><text x="4249" y="2803">ns3::WifiMac</text></g>
</svg>
